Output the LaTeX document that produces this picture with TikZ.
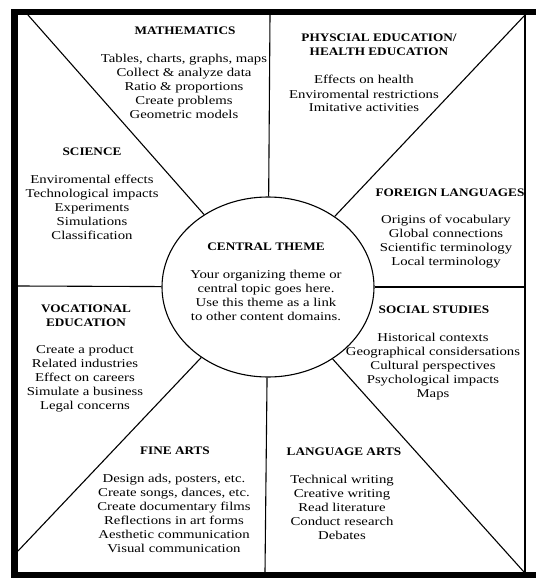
\documentclass[tikz,border=0pt]{standalone}
\usepackage{fontspec}
\setmainfont{Liberation Serif}[FakeStretch=1.23]
\newfontfamily\headfont{Liberation Serif}[FakeStretch=1.15]
\usetikzlibrary{shapes.geometric}

\begin{document}
\begin{tikzpicture}[x=1pt, y=-1pt, line width=1.1pt,
		head/.style={align=center, inner sep=0pt, font=\headfont\fontsize{11.5}{14}\selectfont\bfseries},
		list/.style={align=center, inner sep=0pt, anchor=north, font=\fontsize{12}{14}\selectfont}]
			\useasboundingbox (0,0) rectangle (536,578);
			% frame
			\fill (11,9) rectangle (536,15);
			\fill (11,9) rectangle (18,578);
			\fill (11,572) rectangle (536,578);
			\draw (525,15) -- (525,572);
			% centre and spokes
			\node[ellipse, draw, minimum width=212pt, minimum height=180pt, inner sep=0pt](theme) at (268,287) {};
			\coordinate(tl) at (28,15);
			\coordinate(tc) at (270,15);
			\coordinate(tr) at (525,15);
			\coordinate(rc) at (525,287);
			\coordinate(br) at (524,572);
			\coordinate(bc) at (265,572);
			\coordinate(bl) at (18,551);
			\coordinate(lc) at (18,286);
			\draw(theme) -- (tl);
			\draw(theme) -- (tc);
			\draw(theme) -- (tr);
			\draw(theme) -- (rc);
			\draw(theme) -- (br);
			\draw(theme) -- (bc);
			\draw(theme) -- (bl);
			\draw(theme) -- (lc);
			% areas
			\node[head](centralhead) at (266,247) {CENTRAL THEME};
			\node[list](centrallist) at (266,270) {Your organizing theme or\\central topic goes here.\\Use this theme as a link\\to other content domains.};
			\node[head](mathhead) at (185,31) {MATHEMATICS};
			\node[list](mathlist) at (184,54) {Tables, charts, graphs, maps\\Collect \& analyze data\\Ratio \& proportions\\Create problems\\Geometric models};
			\node[head](physhead) at (379,45) {PHYSCIAL EDUCATION/\\HEALTH EDUCATION};
			\node[list](physlist) at (364,75) {Effects on health\\Enviromental restrictions\\Imitative activities};
			\node[head](scihead) at (92,152) {SCIENCE};
			\node[list](scilist) at (92,174) {Enviromental effects\\Technological impacts\\Experiments\\Simulations\\Classification};
			\node[head](forhead) at (450,193) {FOREIGN LANGUAGES};
			\node[list](forlist) at (446,214) {Origins of vocabulary\\Global connections\\Scientific terminology\\Local terminology};
			\node[head](sochead) at (434,310) {SOCIAL STUDIES};
			\node[list](soclist) at (433,333) {Historical contexts\\Geographical considersations\\Cultural perspectives\\Psychological impacts\\Maps};
			\node[head](vochead) at (86,315.5) {VOCATIONAL\\EDUCATION};
			\node[list](voclist) at (85,345) {Create a product\\Related industries\\Effect on careers\\Simulate a business\\Legal concerns};
			\node[head](finehead) at (175,451) {FINE ARTS};
			\node[list](finelist) at (174,474) {Design ads, posters, etc.\\Create songs, dances, etc.\\Create documentary films\\Reflections in art forms\\Aesthetic communication\\Visual communication};
			\node[head](langhead) at (344,452) {LANGUAGE ARTS};
			\node[list](langlist) at (342,475) {Technical writing\\Creative writing\\Read literature\\Conduct research\\Debates};
		\end{tikzpicture}
\end{document}
